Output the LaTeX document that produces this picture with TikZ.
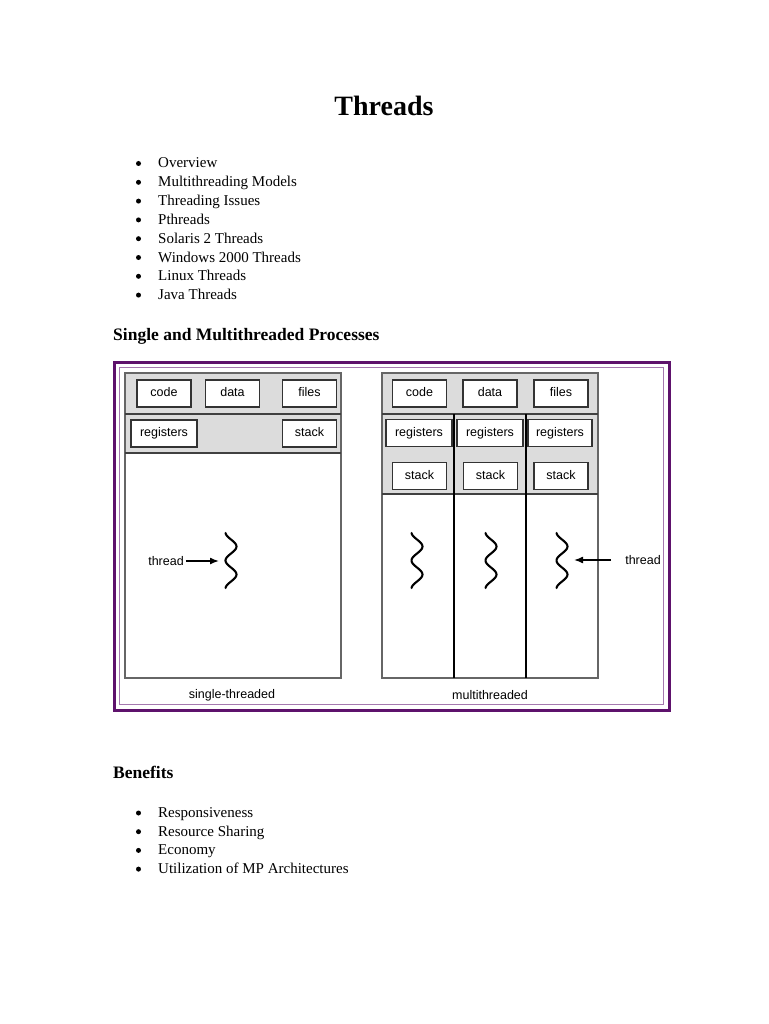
\documentclass[tikz,border=0pt]{standalone}
\usepackage{fontspec}
\setmainfont{Liberation Serif}
\setsansfont{Liberation Sans}
\usetikzlibrary{arrows.meta}

\definecolor{frameviolet}{RGB}{94,18,108}
\definecolor{framelilac}{RGB}{165,120,175}
\definecolor{bandgray}{RGB}{220,220,220}

\begin{document}
\begin{tikzpicture}[
  x=1pt, y=-1pt,
  heading/.style={font=\bfseries\fontsize{17.5}{20}\selectfont, anchor=base west, inner sep=0},
  entry/.style={font=\fontsize{15}{18}\selectfont, anchor=base west, inner sep=0},
  bul/.style={circle, fill=black, inner sep=0, minimum size=5pt},
  seg/.style={draw=black!80, line width=1.6pt, fill=white, minimum width=54pt, minimum height=27pt,
    inner sep=0, text height=9pt, text depth=2.5pt, font=\sffamily\fontsize{12.5}{14}\selectfont},
  lab/.style={font=\sffamily\fontsize{12.5}{14}\selectfont, inner sep=2pt},
  arr/.style={-{Latex[length=9pt, width=7pt]}, line width=1.5pt},
  wave/.pic={\draw[line width=2.1pt, line cap=round]
    plot[domain=-27.5:27.5, samples=50, smooth] ({-5.5*cos(\x*360/28)}, \x);}
]
\useasboundingbox (0,0) rectangle (768,1024);
\fill[white] (0,0) rectangle (768,1024);

%% ===== Title and topics =====
\node[font=\bfseries\fontsize{28}{30}\selectfont, anchor=base, inner sep=0] (title) at (384,116) {Threads};

\node[bul] at (138.5,163.5) {}; \node[entry] (t1) at (158,168) {Overview};
\node[bul] at (138.5,182.3) {}; \node[entry] (t2) at (158,186.8) {Multithreading Models};
\node[bul] at (138.5,201.1) {}; \node[entry] (t3) at (158,205.6) {Threading Issues};
\node[bul] at (138.5,219.9) {}; \node[entry] (t4) at (158,224.4) {Pthreads};
\node[bul] at (138.5,238.7) {}; \node[entry] (t5) at (158,243.2) {Solaris 2 Threads};
\node[bul] at (138.5,257.5) {}; \node[entry] (t6) at (158,262) {Windows 2000 Threads};
\node[bul] at (138.5,276.3) {}; \node[entry] (t7) at (158,280.8) {Linux Threads};
\node[bul] at (138.5,295.1) {}; \node[entry] (t8) at (158,299.6) {Java Threads};

\node[heading] (h1) at (113,340.5) {Single and Multithreaded Processes};

%% ===== Frame =====
\draw[frameviolet, line width=3pt] (114,362) rectangle (669,710);
\draw[framelilac, line width=1pt] (119.5,367.5) rectangle (663.5,704.5);

%% ===== (a) single-threaded =====
\fill[bandgray] (125,373) rectangle (341,453);
\draw[black!60, line width=1.3pt] (125,373) rectangle (341,678);
\draw[black!75, line width=1.3pt] (125,414) -- (341,414);
\draw[black!75, line width=1.3pt] (125,453) -- (341,453);

\node[seg] (scode) at (164,393.5) {code};
\node[seg] (sdata) at (232.5,393.5) {data};
\node[seg] (sfiles) at (309.5,393.5) {files};
\node[seg, minimum width=66pt] (sregs) at (164,433.5) {registers};
\node[seg] (sstack) at (309.5,433.5) {stack};

\pic at (231,560.5) {wave};
\coordinate (swave) at (219,561);
\node[lab] (slab) at (166,561) {thread};
\draw[arr] (slab) -- (swave);

\node[lab] (scap) at (232,695) {single-threaded};

%% ===== (b) multithreaded =====
\fill[bandgray] (382,373) rectangle (598,494);
\draw[black!60, line width=1.3pt] (382,373) rectangle (598,678);
\draw[black!75, line width=1.3pt] (382,414) -- (598,414);
\draw[black!75, line width=1.3pt] (382,494) -- (598,494);
\draw[black, line width=1.3pt] (454,414) -- (454,678);
\draw[black, line width=1.3pt] (526,414) -- (526,678);

\node[seg] (mcode) at (419.5,393.5) {code};
\node[seg] (mdata) at (490,393.5) {data};
\node[seg] (mfiles) at (561,393.5) {files};
\node[seg, minimum width=66pt] (mregs1) at (419,433) {registers};
\node[seg, minimum width=66pt] (mregs2) at (490,433) {registers};
\node[seg, minimum width=64pt] (mregs3) at (560,433) {registers};
\node[seg] (mstack1) at (419.5,476) {stack};
\node[seg] (mstack2) at (490.5,476) {stack};
\node[seg] (mstack3) at (561,476) {stack};

\pic at (417,560.5) {wave};
\pic at (491,560.5) {wave};
\pic at (562,560.5) {wave};
\coordinate (mwave) at (574,560);
\node[lab] (mlab) at (643,560) {thread};
\draw[arr, shorten <=12pt] (mlab) -- (mwave);

\node[lab] (mcap) at (490,695) {multithreaded};

%% ===== Benefits =====
\node[heading] (h2) at (113,778) {Benefits};

\node[bul] at (138.5,813) {};   \node[entry] (b1) at (158,817.5) {Responsiveness};
\node[bul] at (138.5,831.7) {}; \node[entry] (b2) at (158,836.2) {Resource Sharing};
\node[bul] at (138.5,850.4) {}; \node[entry] (b3) at (158,854.9) {Economy};
\node[bul] at (138.5,869.1) {}; \node[entry] (b4) at (158,873.6) {Utilization of MP Architectures};
\end{tikzpicture}
\end{document}
